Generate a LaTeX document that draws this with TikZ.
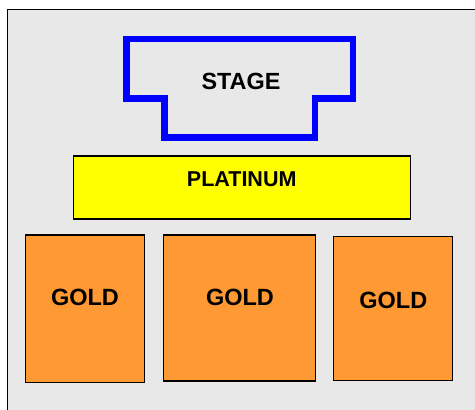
\documentclass[tikz,border=0pt]{standalone}
\usepackage{fontspec}
\setmainfont{Liberation Sans}
\definecolor{bg}{HTML}{E8E8E8}
\definecolor{gold}{HTML}{FF9933}
\definecolor{plat}{HTML}{FFFF00}
\definecolor{stageblue}{HTML}{0000FF}
\tikzset{
  seat/.style={draw=black, line width=1.4pt, fill=#1, rectangle, inner sep=0pt},
  lbl/.style={font=\bfseries\fontsize{#1}{#1}\selectfont, inner sep=0pt, text=black},
}
\begin{document}
\begin{tikzpicture}[x=1pt,y=-1pt]
\useasboundingbox (0,0) rectangle (475,410);
\fill[white] (0,0) rectangle (475,410);
\draw[fill=bg, line width=1.5pt] (7.7,9.7) rectangle (490,430);
% stage
\draw[stageblue, line width=6.5pt, line join=miter] (126.3,38.8) -- (353,38.8) -- (353,98.3) -- (315,98.3) -- (315,137.5) -- (164.7,137.5) -- (164.7,98.3) -- (126.3,98.3) -- cycle;
\node[lbl=23.4] (stage) at (241,81.7) {STAGE};
% platinum
\node[seat=plat, minimum width=337.4pt, minimum height=63pt] (platbox) at (242,187.5) {};
\node[lbl=21.5] (plattext) at (241.7,179) {PLATINUM};
% gold
\node[seat=gold, minimum width=119.4pt, minimum height=147.3pt] (g1) at (85,308.7) {};
\node[seat=gold, minimum width=152pt, minimum height=146pt] (g2) at (239.7,308) {};
\node[seat=gold, minimum width=119.4pt, minimum height=143.6pt] (g3) at (393,308.5) {};
\node[lbl=23.5] (g1t) at (85,297.7) {GOLD};
\node[lbl=23.5] (g2t) at (240,297.7) {GOLD};
\node[lbl=23.5] (g3t) at (393.3,300) {GOLD};
\end{tikzpicture}
\end{document}
